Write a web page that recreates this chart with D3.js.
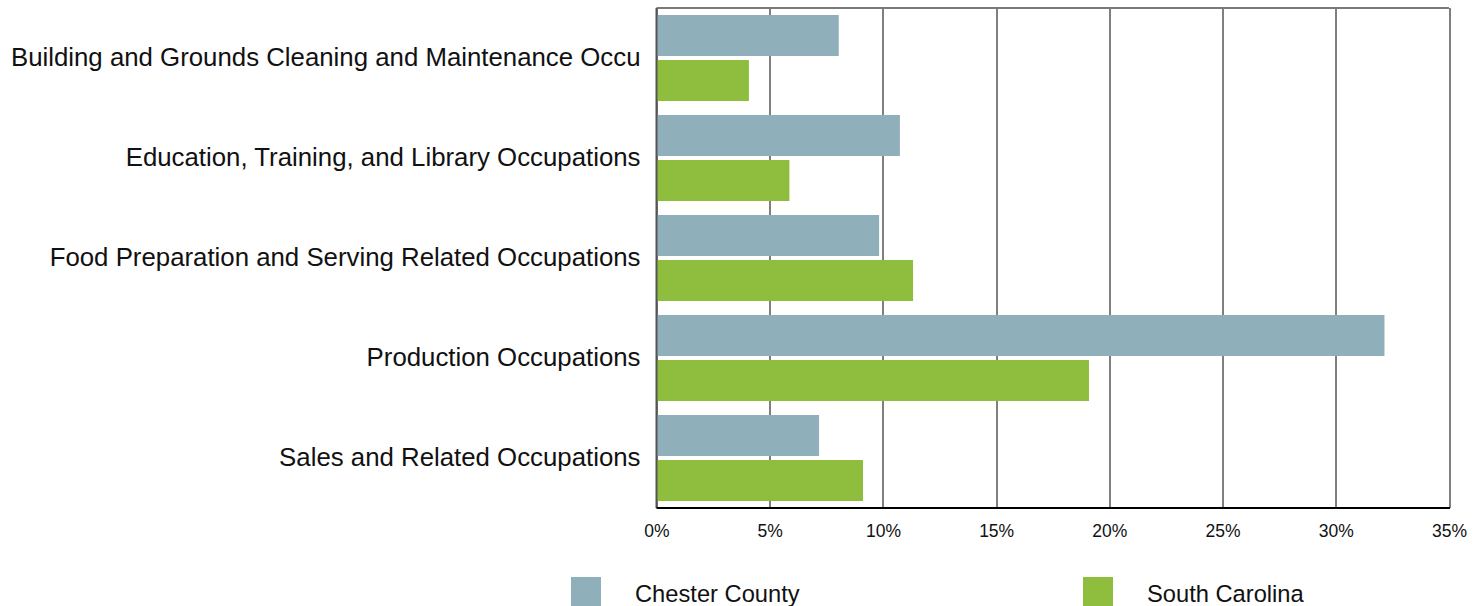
<!DOCTYPE html>
<html>
<head>
<meta charset="utf-8">
<script src="https://cdn.jsdelivr.net/npm/d3@7"></script>
<style>
  body { margin: 0; background: #fff; }
  text { font-family: 'Liberation Sans', Arial, sans-serif; fill: #111; }
</style>
</head>
<body>
<div id="chart"></div>
<script>
const categories = [
  'Building and Grounds Cleaning and Maintenance Occu',
  'Education, Training, and Library Occupations',
  'Food Preparation and Serving Related Occupations',
  'Production Occupations',
  'Sales and Related Occupations'
];
const seriesNames = ['Chester County', 'South Carolina'];
const chesterValues = [8.05, 10.75, 9.83, 32.15, 7.18];
const carolinaValues = [4.08, 5.87, 11.33, 19.1, 9.12];
const tickValues = [0, 5, 10, 15, 20, 25, 30, 35];
const colors = ['#8fafba', '#8fbd3d'];

const width = 1481, height = 606;
const margin = { top: 8, right: 32, bottom: 98, left: 656.5 };
const innerW = width - margin.left - margin.right;
const innerH = height - margin.top - margin.bottom;

const svg = d3.select('#chart').append('svg')
  .attr('width', width)
  .attr('height', height);

const g = svg.append('g')
  .attr('transform', `translate(${margin.left},${margin.top})`);

const x = d3.scaleLinear().domain([0, 35]).range([0, innerW]);
const y = d3.scaleBand().domain(categories).range([0, innerH]).paddingInner(0).paddingOuter(0);
const ySub = d3.scaleBand().domain(seriesNames).range([7, 100 - 7]).paddingInner(0.09);

// grid lines
g.append('g').selectAll('line')
  .data(tickValues)
  .join('line')
  .attr('x1', d => Math.round(x(d)) + 0.5)
  .attr('x2', d => Math.round(x(d)) + 0.5)
  .attr('y1', 0)
  .attr('y2', innerH)
  .style('stroke', '#000')
  .style('stroke-width', 1);

// top border
g.append('line')
  .attr('x1', 0).attr('x2', innerW)
  .attr('y1', 0).attr('y2', 0)
  .style('stroke', '#7a7a7a')
  .style('stroke-width', 2);

const rows = categories.map((c, i) => ({ cat: c, vals: [chesterValues[i], carolinaValues[i]] }));

const groups = g.append('g').selectAll('g')
  .data(rows)
  .join('g')
  .attr('transform', d => `translate(0,${y(d.cat)})`);

groups.selectAll('rect')
  .data(d => d.vals.map((v, i) => ({ name: seriesNames[i], v: v, i: i })))
  .join('rect')
  .attr('x', 0)
  .attr('y', d => ySub(d.name))
  .attr('width', d => x(d.v))
  .attr('height', ySub.bandwidth())
  .style('fill', d => colors[d.i]);

// left axis line
g.append('line')
  .attr('x1', 0).attr('x2', 0)
  .attr('y1', 0).attr('y2', innerH)
  .style('stroke', '#555')
  .style('stroke-width', 2);

// bottom axis line
g.append('line')
  .attr('x1', 0).attr('x2', innerW + 1)
  .attr('y1', innerH).attr('y2', innerH)
  .style('stroke', '#000')
  .style('stroke-width', 2);

// x axis
const xAxis = d3.axisBottom(x).tickValues(tickValues).tickSize(0).tickPadding(17).tickFormat(d => d + '%');
const xAxisG = g.append('g')
  .attr('transform', `translate(0,${innerH})`)
  .call(xAxis);
xAxisG.select('.domain').remove();
xAxisG.selectAll('text')
  .style('font-family', "'Liberation Sans', Arial, sans-serif")
  .style('font-size', '17.5px')
  .style('fill', '#111');

// y axis labels
const yAxis = d3.axisLeft(y).tickSize(0).tickPadding(16);
const yAxisG = g.append('g').call(yAxis);
yAxisG.select('.domain').remove();
yAxisG.selectAll('text')
  .style('font-family', "'Liberation Sans', Arial, sans-serif")
  .style('font-size', '25.8px')
  .style('fill', '#111');

// legend
const legendX = [571, 1083];
const legend = svg.append('g').selectAll('g')
  .data(seriesNames)
  .join('g')
  .attr('transform', (d, i) => `translate(${legendX[i]},577)`);
legend.append('rect')
  .attr('width', 30)
  .attr('height', 29)
  .style('fill', (d, i) => colors[i]);
legend.append('text')
  .attr('x', 64)
  .attr('y', 24.5)
  .style('font-size', '23.7px')
  .text(d => d);
</script>
</body>
</html>
